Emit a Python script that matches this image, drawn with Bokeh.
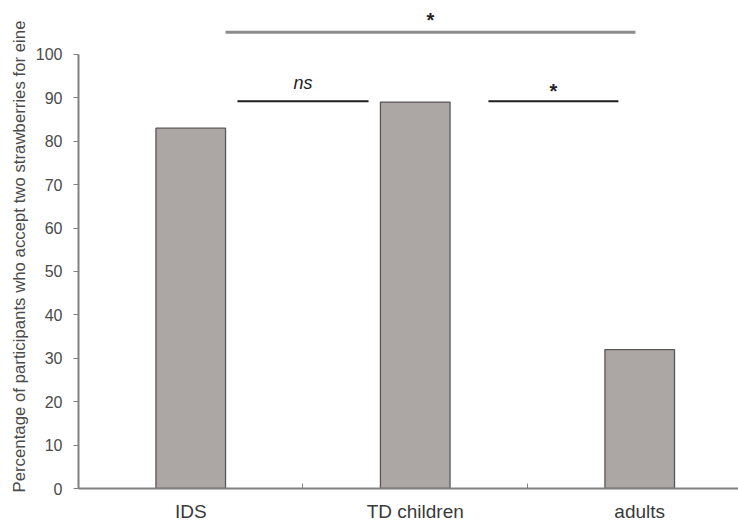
from bokeh.plotting import figure
from bokeh.models import Range1d, FixedTicker, Label, ColumnDataSource, Title
from bokeh.embed import file_html
from bokeh.resources import INLINE

# ---- data ----
groups = ["IDS", "TD children", "adults"]
percent = [83, 89, 32]
y_ticks = [0, 10, 20, 30, 40, 50, 60, 70, 80, 90, 100]
y_title = "Percentage of participants who accept two strawberries for eine"

# significance comparisons: (x start, x end, y level, mark)
cmp_x0 = [0.655, 0.708, 1.826]
cmp_x1 = [2.481, 1.292, 2.405]
cmp_y = [105.1, 89.2, 89.2]
cmp_text = ["*", "ns", "*"]

FONT = "Liberation Sans"
TXT = "#3a3a3a"

p = figure(width=738, height=524, output_backend="svg", toolbar_location=None,
           x_range=Range1d(0, 2.94), y_range=Range1d(0, 112.4),
           min_border_left=78, min_border_right=0, min_border_top=0,
           min_border_bottom=36)
p.outline_line_color = None
p.xgrid.grid_line_color = None
p.ygrid.grid_line_color = None
p.background_fill_color = "white"

xs = [i + 0.5 for i in range(len(groups))]
src = ColumnDataSource(dict(x=xs, top=percent))
p.vbar(x="x", top="top", bottom=0, width=0.31, source=src,
       fill_color="#aca7a5", line_color="#575757", line_width=1.3)

# comparison lines
seg_colors = ["#8c8c8c", "#1e1e1e", "#1e1e1e"]
seg_widths = [3, 1.8, 1.8]
for x0, x1, y, c, w in zip(cmp_x0, cmp_x1, cmp_y, seg_colors, seg_widths):
    p.segment(x0=[x0], y0=[y], x1=[x1], y1=[y], line_color=c, line_width=w)

# comparison marks
mark_y_off = [0.3, 2.0, -0.2]
for x0, x1, y, t, off in zip(cmp_x0, cmp_x1, cmp_y, cmp_text, mark_y_off):
    xm = (x0 + x1) / 2
    if t == "ns":
        lab = Label(x=xm, y=y + off, text=t, text_font=FONT, text_font_size="18px",
                    text_font_style="italic", text_color="#222222",
                    text_align="center", text_baseline="bottom")
    else:
        lab = Label(x=xm, y=y + off, text=t, text_font=FONT, text_font_size="20px",
                    text_font_style="bold", text_color="#222222",
                    text_align="center", text_baseline="bottom")
    p.add_layout(lab)

# x axis
xa = p.xaxis[0]
xa.ticker = FixedTicker(ticks=xs, minor_ticks=[1, 2])
xa.major_label_overrides = {x: g for x, g in zip(xs, groups)}
xa.major_tick_in = 0
xa.major_tick_out = 0
xa.minor_tick_in = 5
xa.minor_tick_out = 0
xa.minor_tick_line_color = "#808080"
xa.axis_line_color = "#808080"
xa.axis_line_width = 2
xa.major_label_text_font = FONT
xa.major_label_text_font_size = "19px"
xa.major_label_text_color = TXT
xa.major_label_standoff = 12

# y axis
ya = p.yaxis[0]
ya.ticker = FixedTicker(ticks=y_ticks)
ya.bounds = (0, 100)
ya.major_tick_in = 0
ya.major_tick_out = 5
ya.minor_tick_line_color = None
ya.major_tick_line_color = "#808080"
ya.axis_line_color = "#808080"
ya.axis_line_width = 2
ya.major_label_text_font = FONT
ya.major_label_text_font_size = "16px"
ya.major_label_text_color = "#4a4a4a"
ya.major_label_standoff = 11

# y title as a side title, starting at the bottom of the plot area
yt = Title(text=y_title, align="left", offset=-4, standoff=8,
           text_font=FONT, text_font_size="16.8px", text_font_style="normal",
           text_color="#4a4a4a")
p.add_layout(yt, "left")

open("out.html", "w").write(file_html(p, INLINE))
